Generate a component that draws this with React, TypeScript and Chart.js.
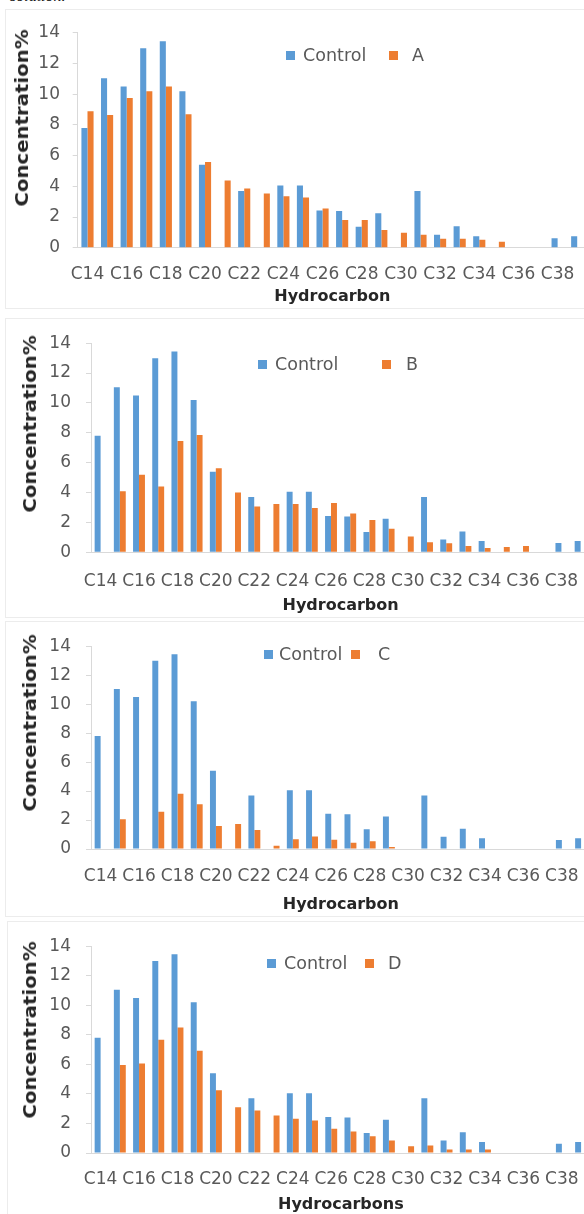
import React, { useEffect, useRef } from "react";
import { Chart, registerables } from "chart.js";

Chart.register(...registerables);

// ---------- data ----------
const hydrocarbons = [
  "C14", "C15", "C16", "C17", "C18", "C19", "C20", "C21", "C22", "C23", "C24", "C25", "C26",
  "C27", "C28", "C29", "C30", "C31", "C32", "C33", "C34", "C35", "C36", "C37", "C38", "C39",
];

const control = [
  7.8, 11.05, 10.5, 13.0, 13.45, 10.2, 5.4, null, 3.7, null, 4.05, 4.05, 2.43,
  2.4, 1.36, 2.25, null, 3.7, 0.85, 1.4, 0.75, null, null, null, 0.62, 0.75,
];

const treatmentA = [
  8.9, 8.65, 9.75, 10.2, 10.5, 8.7, 5.58, 4.38, 3.86, 3.54, 3.35, 3.28, 2.55,
  1.8, 1.8, 1.15, 0.98, 0.84, 0.59, 0.59, 0.52, 0.38, null, null, null, null,
];

const treatmentB = [
  null, 4.08, 5.2, 4.4, 7.45, 7.85, 5.62, 4.0, 3.07, 3.24, 3.24, 2.97, 3.3,
  2.59, 2.17, 1.58, 1.05, 0.67, 0.6, 0.42, 0.29, 0.36, 0.42, null, null, null,
];

const treatmentC = [
  null, 2.05, null, 2.57, 3.82, 3.09, 1.58, 1.73, 1.32, 0.22, 0.67, 0.86, 0.63,
  0.43, 0.54, 0.13, null, null, null, null, null, null, null, null, null, null,
];

const treatmentD = [
  null, 5.95, 6.06, 7.66, 8.5, 6.93, 4.25, 3.1, 2.87, 2.54, 2.32, 2.2, 1.65,
  1.45, 1.14, 0.85, 0.45, 0.51, 0.24, 0.24, 0.24, null, null, null, null, null,
];

const seriesNames = ["Control", "A", "B", "C", "D"];
const yTicks = [0, 2, 4, 6, 8, 10, 12, 14];
const yTitle = "Concentration%";
const xTitles = ["Hydrocarbon", "Hydrocarbon", "Hydrocarbon", "Hydrocarbons"];

// ---------- styles / layout ----------
const BLUE = "#5B9BD5";
const ORANGE = "#ED7D31";
const AXIS = "#d9d9d9";
const TICK_TEXT = "#595959";
const TITLE_TEXT = "#262626";
const FONT = "'DejaVu Sans', sans-serif";

type PanelLayout = {
  top: number;
  height: number;
  padTop: number;
  padRight: number;
  yWidth: number;
  xHeight: number;
  yTickPad: number;
  xTickPad: number;
  titlePadBottom: number;
  border: { left: number; top: number; bottom: number };
  legend: { top: number; blue: number; control: number; orange: number; name: number };
  yTitle: { cx: number; cy: number };
};

const CANVAS_W = 600;

const layouts: PanelLayout[] = [
  {
    top: 10, height: 300, padTop: 15, padRight: 13, yWidth: 77.7, xHeight: 62.3,
    yTickPad: 12.7, xTickPad: 17, titlePadBottom: 3.9,
    border: { left: 5, top: 9, bottom: 309 },
    legend: { top: 55, blue: 286, control: 303, orange: 389, name: 412 },
    yTitle: { cx: 22, cy: 118 },
  },
  {
    top: 318, height: 302, padTop: 13.7, padRight: 9.3, yWidth: 91, xHeight: 67.7,
    yTickPad: 15, xTickPad: 19.2, titlePadBottom: 4.7,
    border: { left: 5, top: 318, bottom: 618 },
    legend: { top: 364, blue: 258, control: 275, orange: 382, name: 406 },
    yTitle: { cx: 30, cy: 424 },
  },
  {
    top: 621, height: 297, padTop: 11.7, padRight: 9.3, yWidth: 91, xHeight: 69,
    yTickPad: 15, xTickPad: 17.5, titlePadBottom: 3.4,
    border: { left: 5, top: 621, bottom: 917 },
    legend: { top: 654, blue: 264, control: 279, orange: 351, name: 378 },
    yTitle: { cx: 30, cy: 723 },
  },
  {
    top: 921, height: 300, padTop: 22.3, padRight: 9.3, yWidth: 91, xHeight: 68,
    yTickPad: 15, xTickPad: 16.8, titlePadBottom: 6.4,
    border: { left: 7, top: 921, bottom: 1230 },
    legend: { top: 963, blue: 267, control: 284, orange: 365, name: 388 },
    yTitle: { cx: 30, cy: 1030 },
  },
];

const treatments = [treatmentA, treatmentB, treatmentC, treatmentD];

function Panel({ index }: { index: number }) {
  const ref = useRef<HTMLCanvasElement | null>(null);
  const L = layouts[index];

  useEffect(() => {
    if (!ref.current) return;
    const chart = new Chart(ref.current, {
      type: "bar",
      data: {
        labels: hydrocarbons,
        datasets: [
          {
            label: seriesNames[0],
            data: control,
            backgroundColor: BLUE,
            categoryPercentage: 0.62,
            barPercentage: 1,
          },
          {
            label: seriesNames[index + 1],
            data: treatments[index],
            backgroundColor: ORANGE,
            categoryPercentage: 0.62,
            barPercentage: 1,
          },
        ],
      },
      options: {
        animation: false,
        responsive: false,
        maintainAspectRatio: false,
        layout: { padding: { top: L.padTop, right: L.padRight, left: 0, bottom: 0 } },
        plugins: { legend: { display: false }, tooltip: { enabled: false } },
        scales: {
          x: {
            grid: { display: false, drawTicks: false },
            border: { display: true, color: AXIS, width: 1 },
            ticks: {
              autoSkip: false,
              maxRotation: 0,
              minRotation: 0,
              padding: L.xTickPad,
              color: TICK_TEXT,
              font: { family: FONT, size: 17 },
              callback: function (this: any, value: any, i: number) {
                return i % 2 === 0 ? this.getLabelForValue(value) : "";
              },
            },
            title: {
              display: true,
              text: xTitles[index],
              color: TITLE_TEXT,
              font: { family: FONT, size: 16, weight: "bold" },
              padding: { top: 0, bottom: L.titlePadBottom },
            },
            afterFit: (scale: any) => {
              scale.height = L.xHeight;
            },
          },
          y: {
            min: 0,
            max: 14,
            afterBuildTicks: (scale: any) => {
              scale.ticks = yTicks.map((v) => ({ value: v }));
            },
            grid: {
              display: true,
              drawOnChartArea: false,
              drawTicks: true,
              tickLength: 5,
              color: AXIS,
            },
            border: { display: true, color: AXIS, width: 1 },
            ticks: {
              padding: L.yTickPad,
              color: TICK_TEXT,
              font: { family: FONT, size: 17 },
            },
            afterFit: (scale: any) => {
              scale.width = L.yWidth;
            },
          },
        },
      },
    });
    return () => chart.destroy();
  }, [index]);

  const legendText: React.CSSProperties = {
    position: "absolute",
    top: L.legend.top - 11,
    lineHeight: "22px",
    fontFamily: FONT,
    fontSize: 17.5,
    color: TICK_TEXT,
    whiteSpace: "nowrap",
  };
  const square = (left: number, color: string): React.CSSProperties => ({
    position: "absolute",
    left,
    top: L.legend.top - 4.5,
    width: 9,
    height: 9,
    background: color,
  });

  return (
    <>
      <div
        style={{
          position: "absolute",
          left: L.border.left,
          top: L.border.top,
          width: 700,
          height: L.border.bottom - L.border.top,
          border: "1px solid #ececec",
          boxSizing: "border-box",
        }}
      />
      <canvas
        ref={ref}
        width={CANVAS_W}
        height={L.height}
        style={{ position: "absolute", left: 0, top: L.top, width: CANVAS_W, height: L.height }}
      />
      <div style={square(L.legend.blue, BLUE)} />
      <div style={{ ...legendText, left: L.legend.control }}>{seriesNames[0]}</div>
      <div style={square(L.legend.orange, ORANGE)} />
      <div style={{ ...legendText, left: L.legend.name }}>{seriesNames[index + 1]}</div>
      <div
        style={{
          position: "absolute",
          left: L.yTitle.cx,
          top: L.yTitle.cy,
          transform: "translate(-50%, -50%) rotate(-90deg) scaleX(1.16)",
          fontFamily: FONT,
          fontWeight: "bold",
          fontSize: 17,
          lineHeight: "20px",
          color: TITLE_TEXT,
          whiteSpace: "nowrap",
        }}
      >
        {yTitle}
      </div>
    </>
  );
}

export default function App() {
  return (
    <div
      style={{
        position: "absolute",
        left: 0,
        top: 0,
        width: 584,
        height: 1214,
        overflow: "hidden",
        background: "#ffffff",
      }}
    >
      <div
        style={{
          position: "absolute",
          left: 10,
          top: -12,
          fontFamily: "'Liberation Serif', serif",
          fontStyle: "italic",
          fontSize: 16,
          lineHeight: "16px",
          color: "#111",
        }}
      >
        solution.
      </div>
      {layouts.map((_, i) => (
        <Panel key={i} index={i} />
      ))}
    </div>
  );
}
